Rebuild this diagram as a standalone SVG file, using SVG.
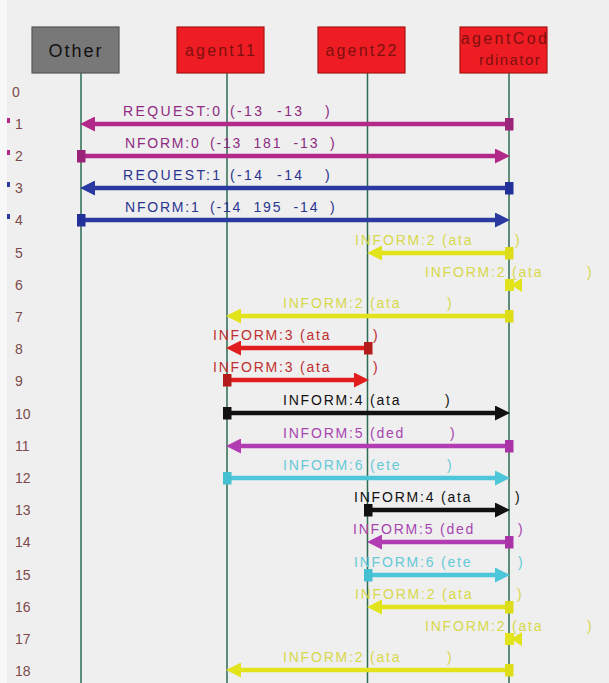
<svg xmlns="http://www.w3.org/2000/svg" width="609" height="683" viewBox="0 0 609 683">
<style>
.bg{fill:#efefef}
.life{stroke:#2d6b50;stroke-width:1.5}
.box{stroke-width:1.2}
.boxr{fill:#ee1d23;stroke:#a81515}
.boxg{fill:#787878;stroke:#555}
.bt{font-family:"Liberation Sans",Arial,sans-serif;text-anchor:middle}
.num{font-family:"Liberation Sans",Arial,sans-serif;font-size:14px;fill:#7d4a4a}
.lbl{font-family:"Liberation Sans",Arial,sans-serif;font-size:14px;letter-spacing:1.8px}
.wide{letter-spacing:2.4px}
.ar{stroke-width:4.5;fill:none}
.mag{stroke:#b3298a}.magt{fill:#8e2a80}
.blu{stroke:#2a3aa0}.blut{fill:#2a3590}
.yel{stroke:#e3e31b}.yelt{fill:#d8d84c}
.red{stroke:#e21d1d}.redt{fill:#c03030}
.blk{stroke:#111}.blkt{fill:#111}
.pur{stroke:#b23cb2}.purt{fill:#a845b0}
.cyn{stroke:#4cc6d8}.cynt{fill:#66c9d8}
</style>
<defs>
<marker id="hMag" markerUnits="userSpaceOnUse" markerWidth="15" markerHeight="15" refX="6" refY="7.5" orient="auto"><path d="M0,0 L15,7.5 L0,15 z" fill="#b3298a"/></marker>
<marker id="sMag" markerUnits="userSpaceOnUse" markerWidth="9" markerHeight="13" refX="4.5" refY="6.5" orient="auto"><rect width="9" height="13" fill="#9a2478"/></marker>
<marker id="hBlu" markerUnits="userSpaceOnUse" markerWidth="15" markerHeight="15" refX="6" refY="7.5" orient="auto"><path d="M0,0 L15,7.5 L0,15 z" fill="#2a3aa0"/></marker>
<marker id="sBlu" markerUnits="userSpaceOnUse" markerWidth="9" markerHeight="13" refX="4.5" refY="6.5" orient="auto"><rect width="9" height="13" fill="#22309a"/></marker>
<marker id="hYel" markerUnits="userSpaceOnUse" markerWidth="15" markerHeight="15" refX="6" refY="7.5" orient="auto"><path d="M0,0 L15,7.5 L0,15 z" fill="#e3e31b"/></marker>
<marker id="sYel" markerUnits="userSpaceOnUse" markerWidth="9" markerHeight="13" refX="4.5" refY="6.5" orient="auto"><rect width="9" height="13" fill="#dcdc18"/></marker>
<marker id="hRed" markerUnits="userSpaceOnUse" markerWidth="15" markerHeight="15" refX="6" refY="7.5" orient="auto"><path d="M0,0 L15,7.5 L0,15 z" fill="#e21d1d"/></marker>
<marker id="sRed" markerUnits="userSpaceOnUse" markerWidth="9" markerHeight="13" refX="4.5" refY="6.5" orient="auto"><rect width="9" height="13" fill="#b41c1c"/></marker>
<marker id="hBlk" markerUnits="userSpaceOnUse" markerWidth="15" markerHeight="15" refX="6" refY="7.5" orient="auto"><path d="M0,0 L15,7.5 L0,15 z" fill="#111"/></marker>
<marker id="sBlk" markerUnits="userSpaceOnUse" markerWidth="9" markerHeight="13" refX="4.5" refY="6.5" orient="auto"><rect width="9" height="13" fill="#111"/></marker>
<marker id="hPur" markerUnits="userSpaceOnUse" markerWidth="15" markerHeight="15" refX="6" refY="7.5" orient="auto"><path d="M0,0 L15,7.5 L0,15 z" fill="#b23cb2"/></marker>
<marker id="sPur" markerUnits="userSpaceOnUse" markerWidth="9" markerHeight="13" refX="4.5" refY="6.5" orient="auto"><rect width="9" height="13" fill="#a834a8"/></marker>
<marker id="hCyn" markerUnits="userSpaceOnUse" markerWidth="15" markerHeight="15" refX="6" refY="7.5" orient="auto"><path d="M0,0 L15,7.5 L0,15 z" fill="#4cc6d8"/></marker>
<marker id="sCyn" markerUnits="userSpaceOnUse" markerWidth="9" markerHeight="13" refX="4.5" refY="6.5" orient="auto"><rect width="9" height="13" fill="#44c0d2"/></marker>
</defs>
<rect class="bg" x="0" y="0" width="609" height="683"/>
<rect x="0" y="0" width="7" height="683" fill="#f8f8f8"/>

<g id="rownumbers">
<text class="num" x="12" y="97">0</text>
<text class="num" x="15" y="129">1</text>
<text class="num" x="15" y="161">2</text>
<text class="num" x="15" y="193">3</text>
<text class="num" x="15" y="225">4</text>
<text class="num" x="15" y="258">5</text>
<text class="num" x="15" y="290">6</text>
<text class="num" x="15" y="322">7</text>
<text class="num" x="15" y="354">8</text>
<text class="num" x="15" y="386">9</text>
<text class="num" x="15" y="419">10</text>
<text class="num" x="15" y="451">11</text>
<text class="num" x="15" y="483">12</text>
<text class="num" x="15" y="515">13</text>
<text class="num" x="15" y="547">14</text>
<text class="num" x="15" y="580">15</text>
<text class="num" x="15" y="612">16</text>
<text class="num" x="15" y="644">17</text>
<text class="num" x="15" y="676">18</text>
<rect x="7" y="118" width="3" height="5" fill="#b3298a"/>
<rect x="7" y="150" width="3" height="5" fill="#b3298a"/>
<rect x="7" y="182" width="3" height="5" fill="#2a3aa0"/>
<rect x="7" y="214" width="3" height="5" fill="#2a3aa0"/>
</g>

<g id="lifelines">
<line class="life" x1="81" y1="73" x2="81" y2="683"/>
<line class="life" x1="227" y1="73" x2="227" y2="683"/>
<line class="life" x1="367.5" y1="73" x2="367.5" y2="683"/>
<line class="life" x1="509" y1="73" x2="509" y2="683"/>
</g>

<g id="node-other">
<rect class="box boxg" x="32" y="27" width="87" height="46"/>
<text class="bt" x="76" y="57" font-size="18" letter-spacing="2" fill="#111">Other</text>
</g>
<g id="node-agent11">
<rect class="box boxr" x="177" y="27" width="87" height="46"/>
<text class="bt" x="221" y="56" font-size="16" letter-spacing="2.2" fill="#7e1010">agent11</text>
</g>
<g id="node-agent22">
<rect class="box boxr" x="318" y="27" width="87" height="46"/>
<text class="bt" x="362" y="56" font-size="16" letter-spacing="2.2" fill="#7e1010">agent22</text>
</g>
<g id="node-agentCoordinator">
<rect class="box boxr" x="460" y="27" width="87" height="46"/>
<text class="bt" x="505" y="44" font-size="16" letter-spacing="2.4" fill="#7e1010">agentCod</text>
<text class="bt" x="510" y="65" font-size="15" letter-spacing="1.4" fill="#7e1010">rdinator</text>
</g>

<g id="connectors">
<line class="ar mag" x1="509" y1="124" x2="89" y2="124" marker-start="url(#sMag)" marker-end="url(#hMag)"/>
<line class="ar mag" x1="81" y1="156" x2="501" y2="156" marker-start="url(#sMag)" marker-end="url(#hMag)"/>
<line class="ar blu" x1="509" y1="188" x2="89" y2="188" marker-start="url(#sBlu)" marker-end="url(#hBlu)"/>
<line class="ar blu" x1="81" y1="220" x2="501" y2="220" marker-start="url(#sBlu)" marker-end="url(#hBlu)"/>
<line class="ar yel" x1="509" y1="253" x2="376" y2="253" marker-start="url(#sYel)" marker-end="url(#hYel)"/>
<g fill="#e3e31b"><rect x="505" y="279" width="9" height="12"/><polygon points="522,278 522,292 511,285"/></g>
<line class="ar yel" x1="509" y1="316" x2="235" y2="316" marker-start="url(#sYel)" marker-end="url(#hYel)"/>
<line class="ar red" x1="368" y1="348" x2="235" y2="348" marker-start="url(#sRed)" marker-end="url(#hRed)"/>
<line class="ar red" x1="227" y1="380" x2="360" y2="380" marker-start="url(#sRed)" marker-end="url(#hRed)"/>
<line class="ar blk" x1="227" y1="413" x2="501" y2="413" marker-start="url(#sBlk)" marker-end="url(#hBlk)"/>
<line class="ar pur" x1="509" y1="446" x2="235" y2="446" marker-start="url(#sPur)" marker-end="url(#hPur)"/>
<line class="ar cyn" x1="227" y1="478" x2="501" y2="478" marker-start="url(#sCyn)" marker-end="url(#hCyn)"/>
<line class="ar blk" x1="368" y1="510" x2="501" y2="510" marker-start="url(#sBlk)" marker-end="url(#hBlk)"/>
<line class="ar pur" x1="509" y1="542" x2="376" y2="542" marker-start="url(#sPur)" marker-end="url(#hPur)"/>
<line class="ar cyn" x1="368" y1="575" x2="501" y2="575" marker-start="url(#sCyn)" marker-end="url(#hCyn)"/>
<line class="ar yel" x1="509" y1="607" x2="376" y2="607" marker-start="url(#sYel)" marker-end="url(#hYel)"/>
<g fill="#e3e31b"><rect x="505" y="633" width="9" height="12"/><polygon points="522,632 522,646 511,639"/></g>
<line class="ar yel" x1="509" y1="670" x2="235" y2="670" marker-start="url(#sYel)" marker-end="url(#hYel)"/>
</g>

<g id="labels">
<text class="lbl wide magt" x="123" y="116" xml:space="preserve">REQUEST:0 <tspan x="230">(-13  -13</tspan><tspan x="325">)</tspan></text>
<text class="lbl magt" x="125" y="148" xml:space="preserve">NFORM:0 <tspan x="210">(-13  181  -13</tspan><tspan x="330">)</tspan></text>
<text class="lbl wide blut" x="123" y="180" xml:space="preserve">REQUEST:1 <tspan x="230">(-14  -14</tspan><tspan x="325">)</tspan></text>
<text class="lbl blut" x="125" y="212" xml:space="preserve">NFORM:1 <tspan x="210">(-14  195  -14</tspan><tspan x="330">)</tspan></text>
<text class="lbl yelt" x="355" y="245">INFORM:2 (ata<tspan x="515">)</tspan></text>
<text class="lbl yelt" x="425" y="277">INFORM:2 (ata<tspan x="587">)</tspan></text>
<text class="lbl yelt" x="283" y="308">INFORM:2 (ata<tspan x="447">)</tspan></text>
<text class="lbl redt" x="213" y="340">INFORM:3 (ata<tspan x="373">)</tspan></text>
<text class="lbl redt" x="213" y="372">INFORM:3 (ata<tspan x="373">)</tspan></text>
<text class="lbl blkt" x="283" y="405">INFORM:4 (ata<tspan x="445">)</tspan></text>
<text class="lbl purt" x="283" y="438">INFORM:5 (ded<tspan x="450">)</tspan></text>
<text class="lbl cynt" x="283" y="470">INFORM:6 (ete<tspan x="447">)</tspan></text>
<text class="lbl blkt" x="354" y="502">INFORM:4 (ata<tspan x="515">)</tspan></text>
<text class="lbl purt" x="353" y="534">INFORM:5 (ded<tspan x="518">)</tspan></text>
<text class="lbl cynt" x="354" y="567">INFORM:6 (ete<tspan x="518">)</tspan></text>
<text class="lbl yelt" x="355" y="599">INFORM:2 (ata<tspan x="517">)</tspan></text>
<text class="lbl yelt" x="425" y="631">INFORM:2 (ata<tspan x="587">)</tspan></text>
<text class="lbl yelt" x="283" y="662">INFORM:2 (ata<tspan x="447">)</tspan></text>
</g>
</svg>
